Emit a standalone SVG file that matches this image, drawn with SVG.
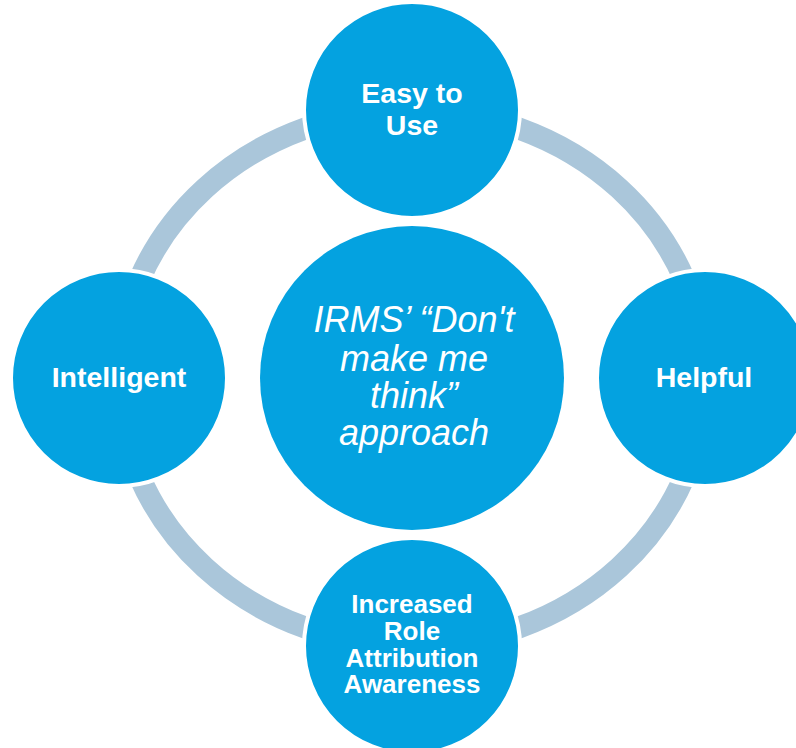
<svg xmlns="http://www.w3.org/2000/svg" width="796" height="748" viewBox="0 0 796 748">
<style>
.node{fill:#04A2E0;stroke:#FFFFFF;stroke-width:4}
.lbl{font-family:"Liberation Sans",Arial,sans-serif;font-weight:bold;font-size:28.5px;fill:#FFFFFF;text-anchor:middle}
.lbl2{font-family:"Liberation Sans",Arial,sans-serif;font-weight:bold;font-size:26px;fill:#FFFFFF;text-anchor:middle}
.ctr{font-family:"Liberation Sans",Arial,sans-serif;font-style:italic;font-size:36px;fill:#FFFFFF;text-anchor:middle}
</style>
<rect width="796" height="748" fill="#FFFFFF"/>
<g id="connectors">
<ellipse cx="412" cy="378" rx="293" ry="268" fill="none" stroke="#AAC6DA" stroke-width="22"/>
</g>
<g id="center">
<circle cx="412" cy="378" r="152" fill="#04A2E0"/>
<text class="ctr" x="414" y="332">IRMS’ “Don't</text>
<text class="ctr" x="414" y="371">make me</text>
<text class="ctr" x="414" y="408">think”</text>
<text class="ctr" x="414" y="445">approach</text>
</g>
<g id="easy">
<circle class="node" cx="412" cy="110" r="108"/>
<text class="lbl" x="412" y="103">Easy to</text>
<text class="lbl" x="412" y="135">Use</text>
</g>
<g id="helpful">
<circle class="node" cx="705" cy="378" r="108"/>
<text class="lbl" x="704" y="387">Helpful</text>
</g>
<g id="awareness">
<circle class="node" cx="412" cy="646" r="108"/>
<text class="lbl2" x="412" y="613">Increased</text>
<text class="lbl2" x="412" y="640">Role</text>
<text class="lbl2" x="412" y="667">Attribution</text>
<text class="lbl2" x="412" y="693">Awareness</text>
</g>
<g id="intelligent">
<circle class="node" cx="119" cy="378" r="108"/>
<text class="lbl" x="119" y="387">Intelligent</text>
</g>
</svg>
